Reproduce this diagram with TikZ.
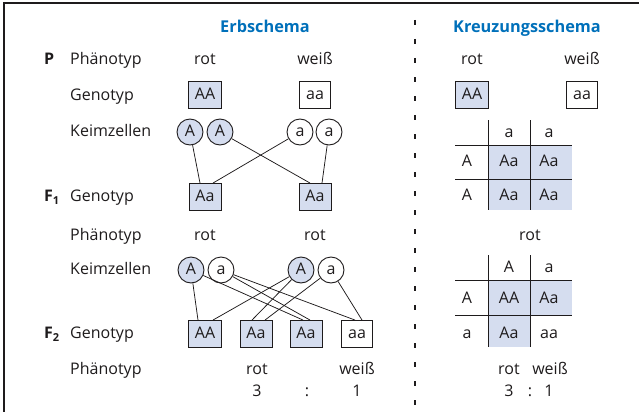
\documentclass[tikz,border=0pt]{standalone}
\usepackage{fontspec}
\setmainfont{Open Sans}
\definecolor{ink}{RGB}{30,27,28}
\definecolor{titleblue}{RGB}{0,112,186}
\definecolor{cellfill}{RGB}{213,221,239}
\newcommand{\gensub}[1]{\raisebox{-0.45ex}{\fontsize{11}{11}\selectfont #1}}
\begin{document}
\begin{tikzpicture}[x=1pt,y=-1pt,
  every node/.style={text=ink},
  font=\fontsize{16}{19}\selectfont,
  txt/.style={inner sep=0pt, text height=11pt, text depth=3pt},
  rowlabel/.style={txt, anchor=west},
  gen/.style={txt, anchor=west, font=\bfseries\fontsize{16}{19}\selectfont},
  title/.style={txt, font=\bfseries\fontsize{16.3}{19}\selectfont, text=titleblue},
  genobox/.style={draw=ink, line width=0.9pt, inner xsep=6.5pt, inner ysep=0pt,
    minimum height=27pt, text height=11pt, text depth=3pt},
  dom/.style={fill=cellfill},
  gamete/.style={circle, draw=ink, line width=0.9pt, minimum size=26pt, inner sep=0pt,
    text height=11pt, text depth=3pt},
  link/.style={draw=ink, line width=0.75pt},
  grid/.style={draw=ink, line width=0.9pt}]
\useasboundingbox (0,0) rectangle (639,412);

% frame and separator
\draw[ink, line width=1.2pt] (639,3) -- (4,3) -- (4,412);
\draw[ink, line width=2.6pt, dash pattern=on 5pt off 14pt] (415,20) -- (415,412);

% titles
\node[title] (t1) at (265,29) {Erbschema};
\node[title] (t2) at (527,29) {Kreuzungsschema};

% generation markers and row labels
\node[gen] (gP) at (44,60) {P};
\node[gen] (gF1) at (44,197) {F\gensub{1}};
\node[gen] (gF2) at (44,334) {F\gensub{2}};
\node[rowlabel] (l1) at (70,60) {Phänotyp};
\node[rowlabel] (l2) at (70,96) {Genotyp};
\node[rowlabel] (l3) at (70,132) {Keimzellen};
\node[rowlabel] (l4) at (70,197) {Genotyp};
\node[rowlabel] (l5) at (70,236) {Phänotyp};
\node[rowlabel] (l6) at (70,270) {Keimzellen};
\node[rowlabel] (l7) at (70,334) {Genotyp};
\node[rowlabel] (l8) at (70,370) {Phänotyp};

% parents
\node[txt] (pr) at (205,60) {rot};
\node[txt] (pw) at (315,60) {weiß};
\node[genobox, dom] (pAA) at (205,95) {AA};
\node[genobox] (paa) at (315,95) {aa};
\node[gamete, dom] (gA1) at (190,132) {A};
\node[gamete, dom] (gA2) at (220,132) {A};
\node[gamete] (ga1) at (300,132) {a};
\node[gamete] (ga2) at (329,132) {a};

% F1
\node[genobox, dom] (f1a) at (205,197) {Aa};
\node[genobox, dom] (f1b) at (315,197) {Aa};
\draw[link] (gA1) -- ([xshift=-5pt]f1a.north);
\draw[link] (ga1) -- ([xshift=8pt]f1a.north);
\draw[link] (gA2) -- ([xshift=-5pt]f1b.north);
\draw[link] (ga2) -- ([xshift=7pt]f1b.north);
\node[txt] (f1r1) at (205,236) {rot};
\node[txt] (f1r2) at (315,236) {rot};
\node[gamete, dom] (hA1) at (191,270) {A};
\node[gamete] (ha1) at (221,270) {a};
\node[gamete, dom] (hA2) at (301,270) {A};
\node[gamete] (ha2) at (331,270) {a};

% F2
\node[genobox, dom] (f2a) at (205,334) {AA};
\node[genobox, dom] (f2b) at (256,334) {Aa};
\node[genobox, dom] (f2c) at (306,334) {Aa};
\node[genobox] (f2d) at (357,334) {aa};
\draw[link] (hA1) -- ([xshift=-7pt]f2a.north);
\draw[link] (hA1) -- ([xshift=-3pt]f2c.north);
\draw[link] (ha1) -- ([xshift=4pt]f2c.north);
\draw[link] (ha1) -- ([xshift=-2pt]f2d.north);
\draw[link] (hA2) -- ([xshift=8pt]f2a.north);
\draw[link] (hA2) -- ([xshift=-4pt]f2b.north);
\draw[link] (ha2) -- ([xshift=9pt]f2b.north);
\draw[link] (ha2) -- ([xshift=5pt]f2d.north);
\node[txt] (f2r) at (257,370) {rot};
\node[txt] (f2w) at (357,370) {weiß};
\node[txt] (f2n3) at (257,392) {3};
\node[txt] (f2c0) at (307,392) {:};
\node[txt] (f2n1) at (357,392) {1};

% crossing scheme, parents
\node[txt] (kr) at (472,60) {rot};
\node[txt] (kw) at (582,60) {weiß};
\node[genobox, dom] (kAA) at (472,95) {AA};
\node[genobox] (kaa) at (582,95) {aa};

% first Punnett square
\fill[cellfill] (488,145) rectangle (572,210);
\draw[grid] (488,120) -- (488,210) (530,120) -- (530,210)
            (455,145) -- (572,145) (455,179) -- (572,179);
\node[txt] (p1h1) at (509,133) {a};
\node[txt] (p1h2) at (549,133) {a};
\node[txt] (p1r1) at (467,162) {A};
\node[txt] (p1r2) at (467,196) {A};
\node[txt] (p1c11) at (509,162) {Aa};
\node[txt] (p1c12) at (549,162) {Aa};
\node[txt] (p1c21) at (509,196) {Aa};
\node[txt] (p1c22) at (549,196) {Aa};

\node[txt] (kf1) at (530,236) {rot};

% second Punnett square
\fill[cellfill] (488,280) rectangle (572,315);
\fill[cellfill] (488,315) rectangle (530,347);
\draw[grid] (488,255) -- (488,347) (530,255) -- (530,347)
            (455,280) -- (572,280) (455,315) -- (572,315);
\node[txt] (p2h1) at (509,268) {A};
\node[txt] (p2h2) at (549,268) {a};
\node[txt] (p2r1) at (467,299) {A};
\node[txt] (p2r2) at (467,334) {a};
\node[txt] (p2c11) at (509,299) {AA};
\node[txt] (p2c12) at (549,299) {Aa};
\node[txt] (p2c21) at (509,334) {Aa};
\node[txt] (p2c22) at (549,334) {aa};

\node[txt] (kr2) at (509,370) {rot};
\node[txt] (kw2) at (550,370) {weiß};
\node[txt] (kn3) at (509,392) {3};
\node[txt] (kc0) at (530,392) {:};
\node[txt] (kn1) at (549,392) {1};
\end{tikzpicture}
\end{document}
